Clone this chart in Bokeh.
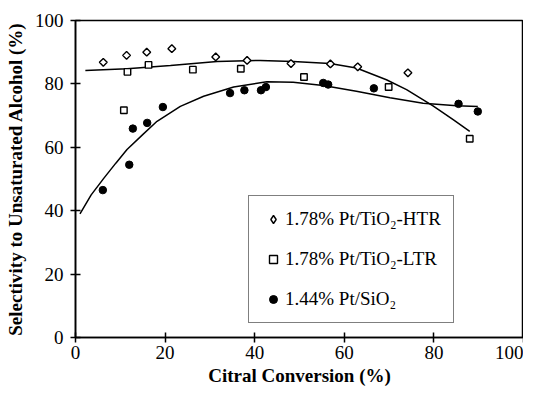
import math
from bokeh.plotting import figure
from bokeh.models import Legend, LegendItem, Range1d, FixedTicker
from bokeh.embed import file_html
from bokeh.resources import INLINE

# Data
htr_x = [6.2, 11.4, 15.9, 21.5, 31.3, 38.3, 48.1, 56.9, 63.0, 74.2]
htr_y = [86.8, 89.0, 90.0, 91.1, 88.5, 87.4, 86.4, 86.3, 85.4, 83.5]

ltr_x = [10.8, 11.6, 16.3, 26.2, 36.9, 51.0, 69.9, 88.0]
ltr_y = [71.7, 83.8, 86.0, 84.5, 84.8, 82.2, 79.0, 62.7]

sio2_x = [6.1, 12.0, 12.8, 16.0, 19.5, 34.5, 37.7, 41.4, 42.5, 55.3, 56.4, 66.6, 85.5, 89.8]
sio2_y = [46.5, 54.5, 65.9, 67.7, 72.7, 77.1, 78.0, 78.0, 79.0, 80.3, 79.8, 78.6, 73.7, 71.3]

# Trend lines (sampled from the reference curves)
upper_x = [2.2, 11.5, 21.2, 31.6, 41.2, 48.6, 56.8, 62.7, 69.4, 73.9, 79.8, 84.3, 88.0]
upper_y = [84.2, 84.8, 85.8, 87.1, 87.4, 87.1, 86.4, 85.0, 81.3, 78.2, 73.1, 68.7, 65.0]

lower_x = [1.0, 3.5, 6.3, 9.0, 11.5, 15.0, 18.2, 23.4, 28.6, 35.3, 42.7, 48.6, 55.3, 62.7, 70.2, 77.6, 85.1, 89.8]
lower_y = [39.0, 45.0, 50.2, 55.0, 59.3, 64.0, 68.2, 72.9, 76.1, 79.0, 80.7, 80.5, 79.5, 77.7, 75.6, 73.9, 73.1, 72.9]

x_ticks = [0, 20, 40, 60, 80, 100]
y_ticks = [0, 20, 40, 60, 80, 100]

labels = ["1.78% Pt/TiO\u2082-HTR", "1.78% Pt/TiO\u2082-LTR", "1.44% Pt/SiO\u2082"]

FONT = "Liberation Serif"

p = figure(width=523, height=390, output_backend="svg", toolbar_location=None,
           x_range=Range1d(0, 100), y_range=Range1d(0, 100),
           min_border_left=75, min_border_right=0, min_border_top=20, min_border_bottom=53)
p.xgrid.visible = False
p.ygrid.visible = False
p.outline_line_color = "black"
p.outline_line_width = 1.5
p.background_fill_color = "white"
p.border_fill_color = "white"

for ax, ticks in ((p.xaxis[0], x_ticks), (p.yaxis[0], y_ticks)):
    ax.ticker = FixedTicker(ticks=ticks)
    ax.minor_tick_line_color = None
    ax.major_tick_in = 5
    ax.major_tick_out = 5
    ax.axis_line_color = "black"
    ax.axis_line_width = 1.6
    ax.major_tick_line_color = "black"
    ax.major_tick_line_width = 1.5
    ax.major_label_text_font = FONT
    ax.major_label_text_font_size = "19px"
    ax.major_label_text_color = "black"
    ax.axis_label_text_font = FONT
    ax.axis_label_text_font_size = "19px"
    ax.axis_label_text_font_style = "bold"
    ax.axis_label_text_color = "black"

p.xaxis.axis_label = "Citral Conversion (%)"
p.yaxis.axis_label = "Selectivity to Unsaturated Alcohol (%)"
p.xaxis.major_label_standoff = 3
p.yaxis.major_label_standoff = 7
p.xaxis.axis_label_standoff = 3
p.yaxis.axis_label_standoff = 6

p.line(upper_x, upper_y, line_color="black", line_width=1.5)
p.line(lower_x, lower_y, line_color="black", line_width=1.5)

r1 = p.scatter(htr_x, htr_y, marker="square", angle=math.pi / 4, size=5.5,
               fill_color="white", line_color="black", line_width=1.4)
r2 = p.scatter(ltr_x, ltr_y, marker="square", size=6.5, fill_color="white", line_color="black", line_width=1.4)
r3 = p.scatter(sio2_x, sio2_y, marker="circle", size=7.5, fill_color="black", line_color="black")

# hidden diamond renderer of the same series, used only as the legend swatch
# (legend glyphs ignore marker angle)
r1_key = p.scatter(htr_x, htr_y, marker="diamond", size=9.5, fill_color="white",
                   line_color="black", line_width=1.4, visible=False)

legend = Legend(items=[LegendItem(label=labels[0], renderers=[r1_key]),
                       LegendItem(label=labels[1], renderers=[r2]),
                       LegendItem(label=labels[2], renderers=[r3])],
                location=(173, 14))
legend.label_text_font = FONT
legend.label_text_font_size = "19px"
legend.label_text_color = "black"
legend.border_line_color = "black"
legend.border_line_width = 1.5
legend.padding = 12
legend.spacing = 18
legend.glyph_width = 24
legend.glyph_height = 20
legend.label_height = 20
legend.label_standoff = 0
legend.margin = 0
legend.background_fill_alpha = 1
legend.inactive_fill_alpha = 0
p.add_layout(legend, "center")

open("out.html", "w").write(file_html(p, INLINE))
